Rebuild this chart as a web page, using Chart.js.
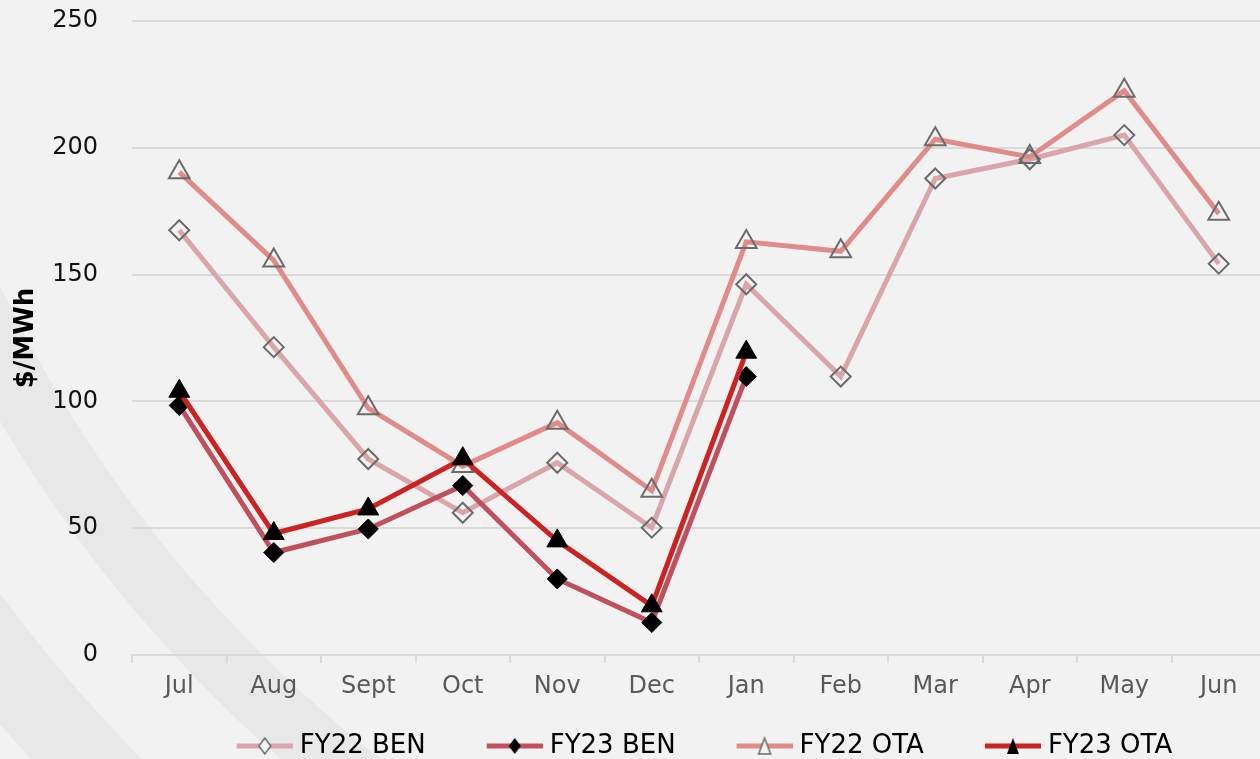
<!DOCTYPE html>
<html>
<head>
<meta charset="utf-8">
<script src="https://cdn.jsdelivr.net/npm/chart.js@4.4.0/dist/chart.umd.min.js"></script>
<style>
  html, body { margin: 0; padding: 0; background: #f2f2f2; overflow: hidden; }
  #wrap { position: relative; width: 1280px; height: 759px; }
</style>
</head>
<body>
<div id="wrap"><canvas id="chart"></canvas></div>
<script>
// chart data
const months = ["Jul", "Aug", "Sept", "Oct", "Nov", "Dec", "Jan", "Feb", "Mar", "Apr", "May", "Jun"];
const fy22Ben = [167.5, 121.4, 77.3, 56.1, 75.8, 50.2, 146.2, 109.8, 187.9, 195.5, 205, 154.3];
const fy23Ben = [98.4, 40.4, 49.7, 66.8, 30, 12.8, 109.8, null, null, null, null, null];
const fy22Ota = [190.4, 155.6, 97.3, 74.5, 91.6, 64.8, 162.9, 159.2, 203.4, 196.4, 222.5, 174];
const fy23Ota = [104, 47.9, 57.6, 77.4, 45, 19.4, 119.4, null, null, null, null, null];
const yTicks = [0, 50, 100, 150, 200, 250];

const FONT = "'DejaVu Sans', sans-serif";
const BOX = 101;

// legend icon: a line with the marker in the middle
function legendIcon(color, style, filled) {
  const w = BOX + 12;
  const c = document.createElement("canvas");
  c.width = w;
  c.height = 24;
  const g = c.getContext("2d");
  g.strokeStyle = color;
  g.lineWidth = 5;
  g.beginPath();
  g.moveTo(w - 56, 12);
  g.lineTo(w, 12);
  g.stroke();
  const cx = w - 28, cy = 12;
  g.beginPath();
  if (style == "diamond") {
    g.moveTo(cx, cy - 8);
    g.lineTo(cx + 6, cy);
    g.lineTo(cx, cy + 8);
    g.lineTo(cx - 6, cy);
  } else {
    g.moveTo(cx, cy - 8);
    g.lineTo(cx + 6, cy + 8);
    g.lineTo(cx - 6, cy + 8);
  }
  g.closePath();
  if (filled) {
    g.fillStyle = "#000";
    g.fill();
  } else {
    g.fillStyle = "#f2f2f2";
    g.fill();
    g.strokeStyle = "#6b6b6b";
    g.lineWidth = 1.5;
    g.stroke();
  }
  return c;
}

// background with the soft curved bands, and legend nudged to sit under the plot
const backdrop = {
  id: "backdrop",
  afterLayout(chart) {
    const shift = 679 - (chart.legend.left + chart.legend.right) / 2;
    chart.legend.left += shift;
    chart.legend.right += shift;
  },
  beforeDraw(chart) {
    const g = chart.ctx;
    g.save();
    g.fillStyle = "#f2f2f2";
    g.fillRect(0, 0, chart.width, chart.height);
    g.fillStyle = "#e8e8e8";
    [[1331, 1395], [1490, 1571]].forEach(b => {
      g.beginPath();
      g.arc(1200, -290, b[1], 0, Math.PI * 2);
      g.arc(1200, -290, b[0], 0, Math.PI * 2, true);
      g.fill();
    });
    g.restore();
  }
};

const ctx = document.getElementById("chart").getContext("2d");

new Chart(ctx, {
  type: "line",
  data: {
    labels: months,
    datasets: [
      {
        label: "FY22 BEN", data: fy22Ben, order: 4,
        borderColor: "#d9a5aa", borderWidth: 5,
        pointStyle: "rectRot", pointRadius: 10,
        pointBackgroundColor: "rgba(0,0,0,0)", pointBorderColor: "#6b6b6b", pointBorderWidth: 2,
        icon: legendIcon("#d9a5aa", "diamond", false)
      },
      {
        label: "FY23 BEN", data: fy23Ben, order: 2,
        borderColor: "#c0505e", borderWidth: 5,
        pointStyle: "rectRot", pointRadius: 10,
        pointBackgroundColor: "#000", pointBorderColor: "#000", pointBorderWidth: 1,
        icon: legendIcon("#c0505e", "diamond", true)
      },
      {
        label: "FY22 OTA", data: fy22Ota, order: 3,
        borderColor: "#e08a8a", borderWidth: 5,
        pointStyle: "triangle", pointRadius: 12,
        pointBackgroundColor: "rgba(0,0,0,0)", pointBorderColor: "#6b6b6b", pointBorderWidth: 2,
        icon: legendIcon("#e08a8a", "triangle", false)
      },
      {
        label: "FY23 OTA", data: fy23Ota, order: 1,
        borderColor: "#cc2222", borderWidth: 5,
        pointStyle: "triangle", pointRadius: 12,
        pointBackgroundColor: "#000", pointBorderColor: "#000", pointBorderWidth: 1,
        icon: legendIcon("#cc2222", "triangle", true)
      }
    ]
  },
  options: {
    responsive: true,
    maintainAspectRatio: false,
    animation: false,
    events: [],
    layout: { padding: { top: 21, right: 0, bottom: -10, left: 0 } },
    scales: {
      x: {
        offset: true,
        grid: { display: true, drawOnChartArea: false, drawTicks: true, tickLength: 8, color: "#d9d9d9", lineWidth: 2, offset: true },
        border: { display: true, color: "#d9d9d9", width: 2 },
        ticks: { color: "#595959", font: { family: FONT, size: 24 }, padding: 9 },
        afterFit: s => { s.height = 68; }
      },
      y: {
        min: 0,
        max: 250,
        afterBuildTicks: s => { s.ticks = yTicks.map(v => ({ value: v })); },
        grid: { color: "#d9d9d9", lineWidth: 2, drawTicks: true, tickLength: 30, tickColor: "rgba(0,0,0,0)" },
        border: { display: false },
        ticks: { color: "#111", font: { family: FONT, size: 24 }, padding: 4 },
        title: { display: true, text: "$/MWh", color: "#000", font: { family: FONT, size: 26, weight: "bold" }, padding: { top: 11, bottom: 0 } },
        afterFit: s => { s.width = 132; }
      }
    },
    plugins: {
      legend: {
        position: "bottom",
        labels: {
          usePointStyle: true,
          pointStyleWidth: BOX,
          padding: 10,
          color: "#000",
          font: { family: FONT, size: 26 },
          generateLabels: chart => chart.data.datasets.map((d, i) => ({
            text: d.label,
            pointStyle: d.icon,
            fontColor: "#000",
            lineWidth: 0,
            hidden: false,
            datasetIndex: i
          }))
        }
      },
      tooltip: { enabled: false }
    }
  },
  plugins: [backdrop]
});
</script>
</body>
</html>
